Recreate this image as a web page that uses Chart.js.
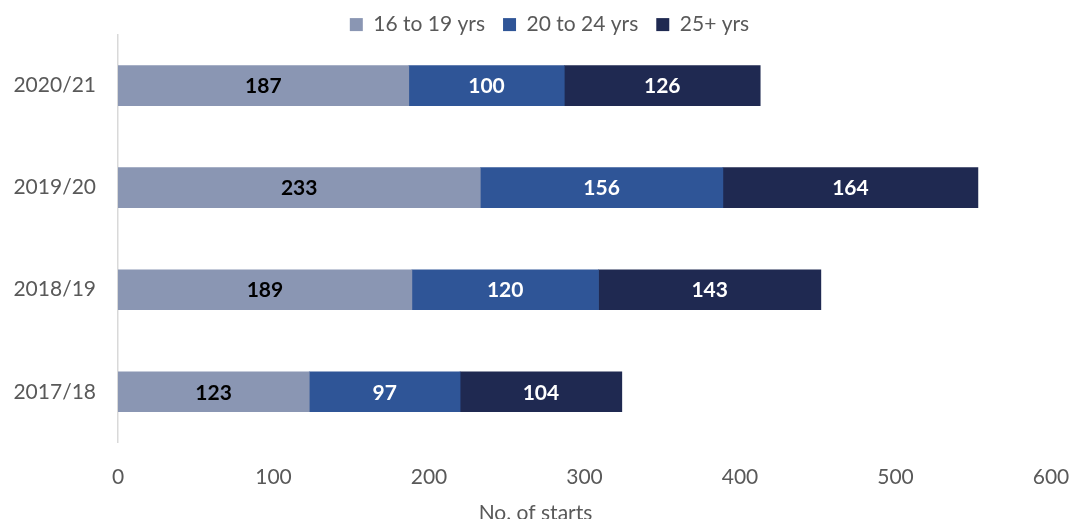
<!DOCTYPE html>
<html>
<head>
<meta charset="utf-8">
<script src="https://cdn.jsdelivr.net/npm/chart.js@4/dist/chart.umd.min.js"></script>
<style>
  html, body { margin: 0; padding: 0; background: #fff; overflow: hidden; }
  #wrap { width: 1071px; height: 530px; position: relative; }
</style>
</head>
<body>
<div id="wrap"><canvas id="chart"></canvas></div>
<script>
// starts by academic year, split by age group
const years = ['2020/21', '2019/20', '2018/19', '2017/18'];
const age16to19 = [187, 233, 189, 123];
const age20to24 = [100, 156, 120, 97];
const age25plus = [126, 164, 143, 104];
const xTicks = [0, 100, 200, 300, 400, 500, 600];

const FONT = 'Lato, "Open Sans", sans-serif';
const GREY = '#595959';

// writes the value in the middle of every bar segment
const segmentLabels = {
  id: 'segmentLabels',
  afterDatasetsDraw(chart) {
    const ctx = chart.ctx;
    ctx.save();
    ctx.font = 'bold 21px ' + FONT;
    ctx.textAlign = 'center';
    ctx.textBaseline = 'middle';
    chart.data.datasets.forEach((ds, i) => {
      const meta = chart.getDatasetMeta(i);
      meta.data.forEach((bar, j) => {
        const x = (bar.x + bar.base) / 2;
        ctx.fillStyle = ds.labelColor;
        ctx.fillText(ds.data[j], x, bar.y + 1);
      });
    });
    ctx.restore();
  }
};

// keeps the legend strip short while leaving wide gaps between entries
const legendPlacement = {
  id: 'legendPlacement',
  beforeInit(chart) {
    const legend = chart.legend;
    const fit = legend.fit;
    legend.fit = function () {
      fit.call(this);
      this.height = 34;
    };
    const draw = legend.draw;
    legend.draw = function () {
      const ctx = this.ctx;
      const bottom = this.bottom;
      this.bottom = bottom + 20; // room for descenders after the shift
      ctx.save();
      ctx.translate(14, -4.5);
      draw.call(this);
      ctx.restore();
      this.bottom = bottom;
    };
  }
};

new Chart(document.getElementById('chart'), {
  type: 'bar',
  data: {
    labels: years,
    datasets: [
      { label: '16 to 19 yrs', data: age16to19, backgroundColor: '#8a96b3', labelColor: '#000' },
      { label: '20 to 24 yrs', data: age20to24, backgroundColor: '#2f5597', labelColor: '#fff' },
      { label: '25+ yrs', data: age25plus, backgroundColor: '#1f2951', labelColor: '#fff' }
    ]
  },
  options: {
    indexAxis: 'y',
    responsive: true,
    maintainAspectRatio: false,
    animation: false,
    layout: { padding: { left: 0, right: 0, top: 0, bottom: 0 } },
    datasets: { bar: { barThickness: 40 } },
    plugins: {
      legend: {
        position: 'top',
        labels: {
          font: { family: FONT, size: 21 },
          color: GREY,
          boxWidth: 13,
          boxHeight: 13,
          padding: 18
        }
      },
      title: {
        display: true,
        position: 'bottom',
        text: 'No. of starts',
        font: { family: FONT, size: 21, weight: 'normal' },
        color: GREY,
        padding: { top: 10, bottom: 4 }
      },
      tooltip: { enabled: false }
    },
    scales: {
      x: {
        stacked: true,
        min: 0,
        max: 600,
        afterBuildTicks(axis) { axis.ticks = xTicks.map(v => ({ value: v })); },
        afterFit(axis) {
          axis.height = 48;
          axis.paddingLeft = 0;
          axis.paddingRight = 20;
        },
        grid: { display: false, drawTicks: false },
        border: { display: false },
        ticks: {
          font: { family: FONT, size: 21 },
          color: GREY,
          padding: 22
        }
      },
      y: {
        stacked: true,
        afterFit(axis) { axis.width = 118; },
        grid: { display: false, drawTicks: false },
        border: { display: true, color: '#d9d9d9', width: 1.5 },
        ticks: {
          font: { family: FONT, size: 21 },
          color: GREY,
          padding: 22
        }
      }
    }
  },
  plugins: [segmentLabels, legendPlacement]
});
</script>
</body>
</html>
